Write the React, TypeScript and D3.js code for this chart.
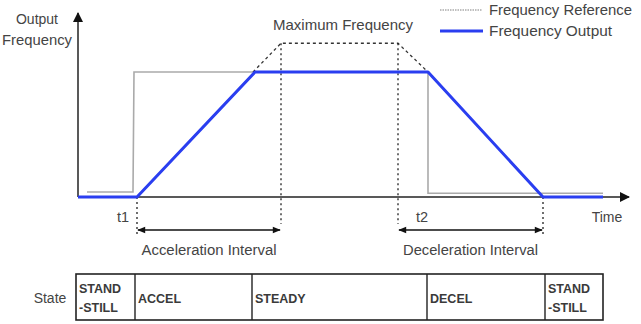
import React from "react";
import * as d3 from "d3";

// Time units (abstract) and frequency (% of output max)
const outputTimes = [0, 59, 177, 350, 465, 525];
const outputValues = [0, 0, 100, 100, 0, 0];
const refTimes = [9, 55, 56, 350, 350, 525];
const refValues = [4, 4, 100, 100, 3, 3];
const maxFreqTimes = [175, 203, 320, 350];
const maxFreqValues = [100, 123, 123, 100];
const markerTimes = [59, 203, 320, 465]; // t1, accel end mark, decel start mark, decel end
const tickLabels = ["t1", "t2"];
const tickTimes = [45, 344];
const intervalLabels = ["Acceleration Interval", "Deceleration Interval"];
const stateLabels = [["STAND", "-STILL"], ["ACCEL"], ["STEADY"], ["DECEL"], ["STAND", "-STILL"]];
const stateBounds = [-2, 57, 174, 349, 467, 525];
const legendLabels = ["Frequency Reference", "Frequency Output"];

export default function App() {
  const W = 641, H = 324;
  const x = d3.scaleLinear().domain([0, 550]).range([78, 628]);
  const y = d3.scaleLinear().domain([0, 100]).range([197, 72]);
  const line = d3.line<number>().x((d: any) => x(d[0])).y((d: any) => y(d[1]));
  const pts = (ts: number[], vs: number[]) => ts.map((t, i) => [t, vs[i]] as any);
  const font = "'Liberation Sans', Arial, sans-serif";
  const txt = "#444";
  const arrowY = 230;
  const intervals = [[markerTimes[0], markerTimes[1]], [markerTimes[2], markerTimes[3]]];
  return (
    <svg width={W} height={H} style={{ position: "absolute", left: 0, top: 0, background: "#fff" }}>
      <defs>
        <marker id="ah" viewBox="0 0 10 10" refX="9" refY="5" markerWidth="9" markerHeight="8" orient="auto-start-reverse" markerUnits="userSpaceOnUse">
          <path d="M0,1 L10,5 L0,9 z" fill="#111" />
        </marker>
        <marker id="ax" viewBox="0 0 10 10" refX="9" refY="5" markerWidth="12" markerHeight="10" orient="auto" markerUnits="userSpaceOnUse">
          <path d="M0,0 L10,5 L0,10 z" fill="#111" />
        </marker>
      </defs>
      {/* reference line */}
      <path d={line(pts(refTimes, refValues)) as string} fill="none" stroke="#aaa" strokeWidth={1.6} />
      {/* max frequency dashed */}
      <path d={line(pts(maxFreqTimes, maxFreqValues)) as string} fill="none" stroke="#333" strokeWidth={1.3} strokeDasharray="3,3" />
      {/* dotted vertical markers */}
      <line x1={x(markerTimes[0])} x2={x(markerTimes[0])} y1={y(0)} y2={235} stroke="#222" strokeWidth={1.3} strokeDasharray="2,3" />
      <line x1={x(markerTimes[1])} x2={x(markerTimes[1])} y1={y(123)} y2={224} stroke="#222" strokeWidth={1.3} strokeDasharray="2,3" />
      <line x1={x(markerTimes[2])} x2={x(markerTimes[2])} y1={y(123)} y2={224} stroke="#222" strokeWidth={1.3} strokeDasharray="2,3" />
      <line x1={x(markerTimes[3])} x2={x(markerTimes[3])} y1={y(0)} y2={235} stroke="#222" strokeWidth={1.3} strokeDasharray="2,3" />
      {/* axes */}
      <line x1={x(0)} x2={x(0)} y1={y(0)} y2={13} stroke="#222" strokeWidth={1.5} markerEnd="url(#ax)" />
      <line x1={x(0)} x2={x(551)} y1={y(0)} y2={y(0)} stroke="#222" strokeWidth={1.5} markerEnd="url(#ax)" />
      {/* output line */}
      <path d={line(pts(outputTimes, outputValues)) as string} fill="none" stroke="#2a3ef0" strokeWidth={3} strokeLinejoin="round" />
      {/* interval arrows */}
      {intervals.map((iv, i) => (
        <g key={i}>
          <line x1={x(iv[0]) + 1} x2={x(iv[1]) - 1} y1={arrowY} y2={arrowY} stroke="#111" strokeWidth={1.5} markerStart="url(#ah)" markerEnd="url(#ah)" />
          <text x={(x(iv[0]) + x(iv[1])) / 2} y={255} textAnchor="middle" fontFamily={font} fontSize={14} fill={txt} textLength={135} lengthAdjust="spacingAndGlyphs">{intervalLabels[i]}</text>
        </g>
      ))}
      {tickLabels.map((t, i) => (
        <text key={t} x={x(tickTimes[i])} y={222} textAnchor="middle" fontFamily={font} fontSize={14.5} fill={txt}>{t}</text>
      ))}
      <text x={607} y={222} textAnchor="middle" fontFamily={font} fontSize={14} fill={txt}>Time</text>
      <text x={37} y={24} textAnchor="middle" fontFamily={font} fontSize={14} fill={txt}>Output</text>
      <text x={37} y={45} textAnchor="middle" fontFamily={font} fontSize={14} fill={txt} textLength={70} lengthAdjust="spacingAndGlyphs">Frequency</text>
      <text x={343} y={30} textAnchor="middle" fontFamily={font} fontSize={14.5} fill={txt} textLength={140} lengthAdjust="spacingAndGlyphs">Maximum Frequency</text>
      {/* legend */}
      <line x1={440} x2={482} y1={10} y2={10} stroke="#aaa" strokeWidth={1.5} strokeDasharray="1.5,1" />
      <text x={489} y={15} fontFamily={font} fontSize={14.5} fill={txt} textLength={143} lengthAdjust="spacingAndGlyphs">{legendLabels[0]}</text>
      <line x1={440} x2={483} y1={31} y2={31} stroke="#2a3ef0" strokeWidth={3} />
      <text x={489} y={36} fontFamily={font} fontSize={14.5} fill={txt} textLength={123} lengthAdjust="spacingAndGlyphs">{legendLabels[1]}</text>
      {/* state table */}
      <text x={50} y={303} textAnchor="middle" fontFamily={font} fontSize={14} fill={txt}>State</text>
      <rect x={x(stateBounds[0])} y={274} width={x(stateBounds[5]) - x(stateBounds[0])} height={46} fill="none" stroke="#222" strokeWidth={1.6} />
      {stateBounds.slice(1, -1).map((b, i) => (
        <line key={i} x1={x(b)} x2={x(b)} y1={274} y2={320} stroke="#222" strokeWidth={1.4} />
      ))}
      {stateLabels.map((lbl, i) => (
        <g key={i}>
          {lbl.map((s, j) => (
            <text key={j} x={x(stateBounds[i]) + 3} y={lbl.length === 1 ? 303 : 293 + j * 19} fontFamily={font} fontSize={12.5} fontWeight="bold" fill="#3a3a3a">{s}</text>
          ))}
        </g>
      ))}
    </svg>
  );
}
